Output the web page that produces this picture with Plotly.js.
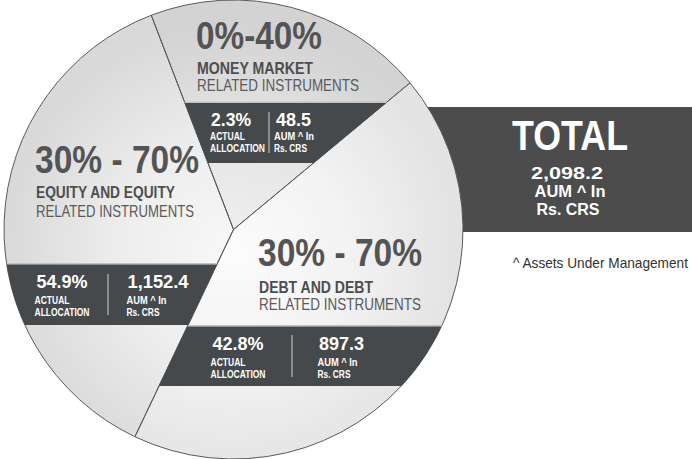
<!DOCTYPE html>
<html><head><meta charset="utf-8">
<script src="https://cdn.plot.ly/plotly-3.0.1.min.js"></script>
<style>html,body{margin:0;padding:0;background:#fff}#chart{width:692px;height:459px}</style>
</head><body><div id="chart"></div>
<script>
// ---- data ----
const categories = ['MONEY MARKET', 'DEBT AND DEBT', 'EQUITY AND EQUITY'];
const subLabels = ['RELATED INSTRUMENTS', 'RELATED INSTRUMENTS', 'RELATED INSTRUMENTS'];
const ranges = ['0%-40%', '30% - 70%', '30% - 70%'];
const actualAllocation = [2.3, 42.8, 54.9];
const aumRsCrs = [48.5, 897.3, 1152.4];
const wedgeShare = [19.8, 43.1, 37.1];   // drawn wedge sizes as they appear
const totalAum = 2098.2;
const totalLabel = 'TOTAL';
const aumLabel = ['AUM ^ In', 'Rs. CRS'];
const allocLabel = ['ACTUAL', 'ALLOCATION'];
const footnote = '^ Assets Under Management';

// ---- layout helpers ----
const W = 692, H = 459;
const FONT = '"Liberation Sans", Arial, sans-serif';
const cx = 233.5, cy = 229.5, R = 229.5;
const rotation = -21;
const px = x => x / W, py = y => 1 - y / H;
const fmt = v => v.toLocaleString('en-US', {minimumFractionDigits: 1, maximumFractionDigits: 1});

const tot = wedgeShare.reduce((a, b) => a + b, 0);
const edges = [rotation];
wedgeShare.forEach(v => edges.push(edges[edges.length - 1] + v / tot * 360));
function pt(deg, r) { const t = deg * Math.PI / 180; return [cx + r * Math.sin(t), cy - r * Math.cos(t)]; }
function wedgePoly(i) {
  const a0 = edges[i], a1 = edges[i + 1], poly = [[cx, cy]], n = 80;
  for (let k = 0; k <= n; k++) poly.push(pt(a0 + (a1 - a0) * k / n, R));
  return poly;
}
function clipPoly(subject, clipper) {
  let area = 0;
  for (let i = 0; i < clipper.length; i++) { const a = clipper[i], b = clipper[(i + 1) % clipper.length]; area += a[0] * b[1] - b[0] * a[1]; }
  const s = Math.sign(area);
  let out = subject;
  for (let i = 0; i < clipper.length; i++) {
    const A = clipper[i], B = clipper[(i + 1) % clipper.length];
    const inside = p => s * ((B[0] - A[0]) * (p[1] - A[1]) - (B[1] - A[1]) * (p[0] - A[0])) >= 0;
    const inter = (P, Q) => {
      const a1 = B[1] - A[1], b1 = A[0] - B[0], c1 = a1 * A[0] + b1 * A[1];
      const a2 = Q[1] - P[1], b2 = P[0] - Q[0], c2 = a2 * P[0] + b2 * P[1];
      const d = a1 * b2 - a2 * b1;
      return [(b2 * c1 - b1 * c2) / d, (a1 * c2 - a2 * c1) / d];
    };
    const inp = out; out = [];
    for (let j = 0; j < inp.length; j++) {
      const P = inp[j], Q = inp[(j + 1) % inp.length], pin = inside(P), qin = inside(Q);
      if (pin) { out.push(P); if (!qin) out.push(inter(P, Q)); }
      else if (qin) out.push(inter(P, Q));
    }
  }
  return out;
}
const toPath = pts => 'M' + pts.map(p => px(p[0]).toFixed(5) + ',' + py(p[1]).toFixed(5)).join('L') + 'Z';

const BAND = '#46494c';
const bandY = [[103, 163], [326.5, 386], [264.5, 325]];
const shapes = [];
bandY.forEach((b, i) => {
  const wp = wedgePoly(i);
  const edge = [[-20, b[0] - 1.5], [720, b[0] - 1.5], [720, b[0]], [-20, b[0]]];
  shapes.push({type: 'path', xref: 'paper', yref: 'paper', path: toPath(clipPoly(edge, wp)),
    fillcolor: '#c2c2c2', line: {width: 0}, layer: 'above'});
  const rect = [[-20, b[0]], [720, b[0]], [720, b[1]], [-20, b[1]]];
  shapes.push({type: 'path', xref: 'paper', yref: 'paper', path: toPath(clipPoly(rect, wp)),
    fillcolor: BAND, line: {width: 0}, layer: 'above'});
});
(function () {
  const y0 = 107, y1 = 232, pts = [];
  pts.push([692, y0]); pts.push([692, y1]);
  const n = 40;
  for (let k = 0; k <= n; k++) { const y = y1 + (y0 - y1) * k / n; pts.push([cx + Math.sqrt(R * R - (y - cy) * (y - cy)), y]); }
  shapes.push({type: 'path', xref: 'paper', yref: 'paper', path: toPath(pts), fillcolor: '#4c4c4c', line: {width: 0}, layer: 'above'});
})();
const dividers = [[269, 112, 153], [292, 335, 377], [108, 274, 315]];
dividers.forEach(d => shapes.push({type: 'line', xref: 'paper', yref: 'paper', x0: px(d[0]), x1: px(d[0]), y0: py(d[1]), y1: py(d[2]),
  line: {color: '#d0d0d0', width: 1}, layer: 'above'}));

// text specs: left (or centre) x, cap-centre y, size, colour, bold, target width
const specs = [];
function T(text, x, y, size, color, bold, w, anchor) { specs.push({text, x, y, size, color, bold, w, anchor: anchor || 'left'}); }
const place = [
  {rx: 196, ry: 36, ny: 68, sy: 86, pcx: 211, pcy: 119.5, lx: 210, l1: 136, l2: 148.5, ax: 276, alx: 274, w: [126, 116, 162, 40, 35]},
  {rx: 258, ry: 253, ny: 287, sy: 304.5, pcx: 212.5, pcy: 344, lx: 210.5, l1: 362, l2: 374, ax: 319, alx: 317.5, w: [164, 114, 162, 51, 45]},
  {rx: 35, ry: 159.5, ny: 192, sy: 211.5, pcx: 36.5, pcy: 282, lx: 34.5, l1: 299.5, l2: 311.5, ax: 127.5, alx: 126.5, w: [164, 139, 158, 51, 61]}
];
categories.forEach((c, i) => {
  const p = place[i];
  T(ranges[i], p.rx, p.ry, 39, '#545454', true, p.w[0]);
  T(c, p.rx + 1, p.ny, 17, '#4e4e4e', true, p.w[1]);
  T(subLabels[i], p.rx + 1, p.sy, 17, '#5a5a5a', false, p.w[2]);
  T(actualAllocation[i].toFixed(1) + '%', p.pcx, p.pcy, 18, '#ffffff', true, p.w[3]);
  T(allocLabel[0], p.lx, p.l1, 10.5, '#ffffff', true, 35);
  T(allocLabel[1], p.lx, p.l2, 10.5, '#ffffff', true, 55);
  T(fmt(aumRsCrs[i]), p.ax, p.pcy, 18, '#ffffff', true, p.w[4]);
  T(aumLabel[0], p.alx, p.l1, 10.5, '#ffffff', true, 40);
  T(aumLabel[1], p.alx, p.l2, 10.5, '#ffffff', true, 33);
});
T(totalLabel, 570, 135, 42, '#ffffff', true, 116, 'center');
T(fmt(totalAum), 567, 173, 16, '#ffffff', true, 72, 'center');
T(aumLabel[0], 570, 191.5, 16, '#ffffff', true, 71, 'center');
T(aumLabel[1], 568, 209, 16, '#ffffff', true, 63, 'center');
T(footnote, 513, 262.5, 15, '#333333', false, 175);

const annotations = specs.map(s => ({
  xref: 'paper', yref: 'paper', x: px(s.x), y: py(s.y), xanchor: s.anchor, yanchor: 'middle',
  text: s.text, showarrow: false, borderpad: 0,
  font: {family: FONT, size: s.size, color: s.color, weight: s.bold ? 700 : 400}
}));

const grad = "<svg xmlns='http://www.w3.org/2000/svg' width='460' height='460' viewBox='0 0 460 460'><defs><radialGradient id='g' cx='0.5' cy='0.55' r='0.5'><stop offset='0' stop-color='#fbfbfb'/><stop offset='0.5' stop-color='#f0f0f0'/><stop offset='1' stop-color='#dcdcdc'/></radialGradient></defs><circle cx='230' cy='230' r='230' fill='url(#g)'/></svg>";

const trace = {
  type: 'pie', values: wedgeShare, labels: categories, sort: false, direction: 'clockwise', rotation: rotation,
  textinfo: 'none', hoverinfo: 'skip', showlegend: false,
  domain: {x: [px(cx - R), px(cx + R)], y: [0, 1]},
  marker: {colors: ['rgba(60,60,60,0.06)', 'rgba(255,255,255,0.2)', 'rgba(0,0,0,0.01)'], line: {color: '#5a5a5a', width: 1}}
};
const layout = {
  width: W, height: H, margin: {l: 0, r: 0, t: 0, b: 0}, paper_bgcolor: '#ffffff', showlegend: false,
  shapes: shapes, annotations: annotations,
  images: [{source: 'data:image/svg+xml;charset=utf-8,' + encodeURIComponent(grad), xref: 'paper', yref: 'paper',
    x: px(cx - R), y: 1, sizex: 2 * R / W, sizey: 1, sizing: 'stretch', xanchor: 'left', yanchor: 'top', layer: 'below'}]
};

// condense the text horizontally to match the narrow typeface of the original
function condense(gd) {
  const root = gd.getBoundingClientRect();
  gd.querySelectorAll('g.annotation').forEach(g => {
    const i = +g.getAttribute('data-index');
    const s = specs[i];
    const t = g.querySelector('text.annotation-text');
    if (!s || !t) return;
    t.setAttribute('textLength', s.w);
    t.setAttribute('lengthAdjust', 'spacingAndGlyphs');
    const r = t.getBoundingClientRect();
    const left = r.left - root.left;
    const want = s.anchor === 'center' ? s.x - s.w / 2 : s.x;
    const x0 = parseFloat(t.getAttribute('x')) || 0;
    t.setAttribute('x', x0 + (want - left));
    const bg = g.querySelector('rect.bg');
    if (bg) {
      const bb = t.getBBox();
      bg.setAttribute('x', bb.x); bg.setAttribute('width', bb.width);
      bg.setAttribute('y', bb.y + bb.height * 0.2); bg.setAttribute('height', bb.height * 0.6);
    }
  });
}
Plotly.newPlot('chart', [trace], layout, {staticPlot: true, displayModeBar: false}).then(condense);
</script></body></html>
